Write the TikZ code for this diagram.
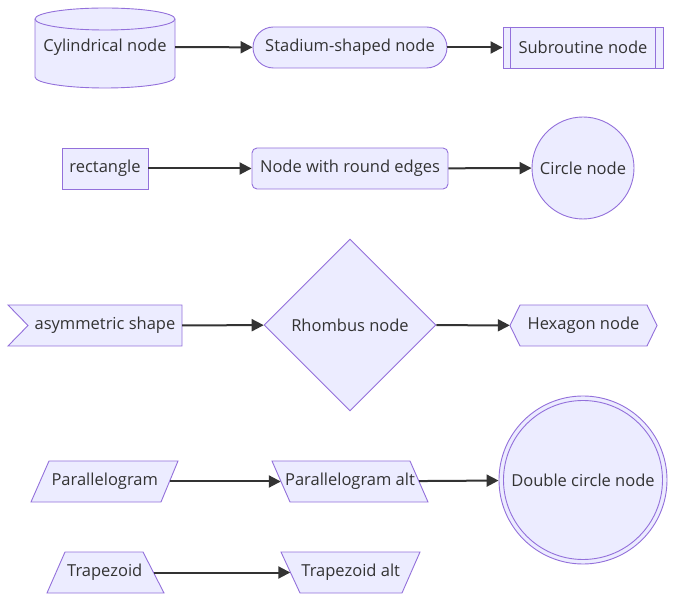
\documentclass[tikz,border=0pt]{standalone}
\usepackage{fontspec}
\setmainfont{Open Sans}
\usetikzlibrary{arrows.meta,shapes.geometric}
\definecolor{nfill}{HTML}{ECECFF}
\definecolor{nline}{HTML}{9370DB}
\definecolor{txt}{HTML}{333333}
\begin{document}
\begin{tikzpicture}[x=1pt,y=-1pt,
  box/.style={draw=nline,fill=nfill,line width=0.9pt},
  lbl/.style={text=txt,font=\fontsize{16.5}{19}\selectfont,inner sep=0pt,minimum height=41pt},
  link/.style={draw=txt,line width=2pt,-{Triangle[length=12pt,width=12pt]}}]
\useasboundingbox (0,0) rectangle (675,601);
% row 1
\path[box] (35,19) -- (35,77) arc[start angle=180,end angle=360,x radius=70pt,y radius=11pt]
  -- (175,19) arc[start angle=0,end angle=180,x radius=70pt,y radius=11pt] -- cycle;
\draw[nline,line width=0.9pt] (35,19) arc[start angle=180,end angle=360,x radius=70pt,y radius=11pt];
\node[lbl,minimum width=140pt] (cyl) at (105,47) {Cylindrical node};
\node[box,lbl,rounded corners=20.5pt,minimum width=194pt] (stad) at (350,47.5) {Stadium-shaped node};
\node[box,lbl,minimum width=160pt] (sub) at (583,47.5) {Subroutine node};
\draw[nline,line width=0.9pt] ([xshift=8pt]sub.north west) -- ([xshift=8pt]sub.south west);
\draw[nline,line width=0.9pt] ([xshift=-8pt]sub.north east) -- ([xshift=-8pt]sub.south east);
\draw[link] (cyl) -- (stad);
\draw[link] (stad) -- (sub);
% row 2
\node[box,lbl,minimum width=86pt] (rect) at (105,168.5) {rectangle};
\node[box,lbl,rounded corners=5pt,minimum width=196pt] (round) at (350,168.5) {Node with round edges};
\node[box,lbl,circle,minimum size=102pt] (circ) at (583,168) {Circle node};
\draw[link] (rect) -- (round);
\draw[link] (round) -- (circ);
% row 3
\path[box] (8,305) -- (182,305) -- (182,346) -- (8,346) -- (28,325.5) -- cycle;
\node[lbl,minimum width=154pt] (asym) at (105,325.5) {asymmetric shape};
\node[box,lbl,diamond,aspect=1,minimum width=172pt,minimum height=172pt] (rhomb) at (350,325) {Rhombus node};
\path[box] (510,325.5) -- (520,305) -- (647,305) -- (657,325.5) -- (647,346) -- (520,346) -- cycle;
\node[lbl,minimum width=147pt] (hex) at (583.5,325.5) {Hexagon node};
\draw[link] (asym) -- (rhomb);
\draw[link] (rhomb) -- (hex);
% row 4
\path[box] (49,461) -- (178,461) -- (161,502) -- (31,502) -- cycle;
\node[lbl,minimum width=129.5pt] (par) at (104.75,481.5) {Parallelogram};
\path[box] (272,461) -- (410,461) -- (428,502) -- (290,502) -- cycle;
\node[lbl,minimum width=138pt] (palt) at (350,481.5) {Parallelogram alt};
\node[box,lbl,circle,minimum size=168pt] (dbl) at (583,480) {Double circle node};
\draw[nline,line width=0.9pt] (dbl.center) circle[radius=79.5pt];
\draw[link] (par) -- (palt);
\draw[link] (palt) -- (dbl);
% row 5
\path[box] (65,552) -- (143,552) -- (164,593) -- (47,593) -- cycle;
\node[lbl,minimum width=97.5pt] (trap) at (104.75,572.5) {Trapezoid};
\path[box] (281,552) -- (420,552) -- (402,593) -- (300,593) -- cycle;
\node[lbl,minimum width=120.5pt] (talt) at (350.75,572.5) {Trapezoid alt};
\draw[link] (trap) -- (talt);
\end{tikzpicture}
\end{document}
